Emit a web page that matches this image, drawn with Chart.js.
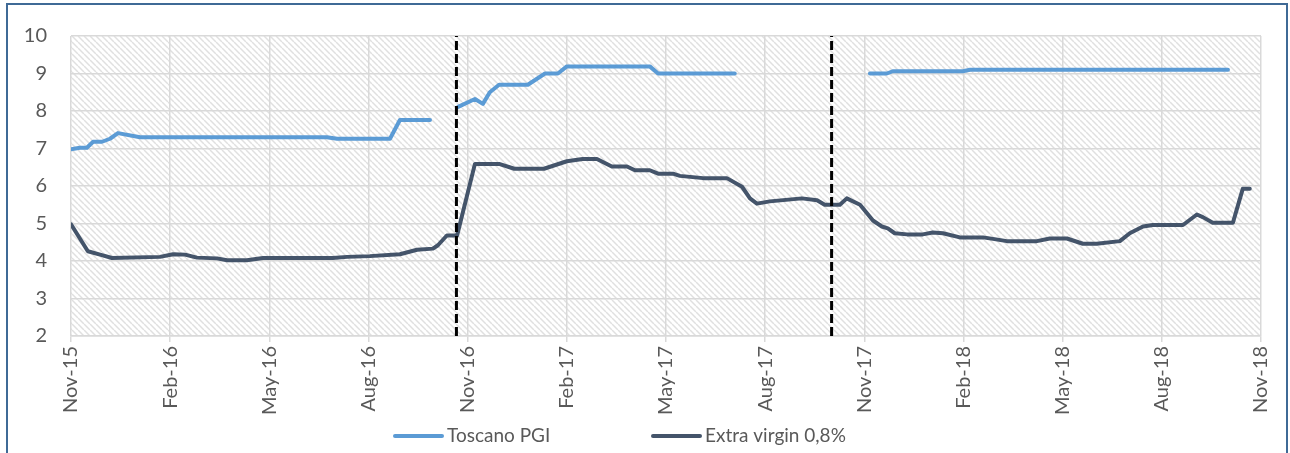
<!DOCTYPE html>
<html>
<head>
<meta charset="utf-8">
<script src="https://cdn.jsdelivr.net/npm/chart.js@4/dist/chart.umd.min.js"></script>
<style>
  html, body { margin: 0; padding: 0; background: #fff; }
  #wrap { position: relative; width: 1290px; height: 453px; overflow: hidden; }
  #frame { position: absolute; left: 6px; top: 3px; width: 1282px; height: 600px; box-sizing: border-box; border: 2px solid #3f6a96; }
  #chart { position: absolute; left: 0; top: 0; }
</style>
</head>
<body>
<div id="wrap">
  <div id="frame"></div>
  <canvas id="chart" width="1290" height="453"></canvas>
</div>
<script>
// x positions are months counted from Nov-15
const tickLabels = ['Nov-15', 'Feb-16', 'May-16', 'Aug-16', 'Nov-16', 'Feb-17', 'May-17',
  'Aug-17', 'Nov-17', 'Feb-18', 'May-18', 'Aug-18', 'Nov-18'];

const toscanoMonths = [0, 0.27, 0.48, 0.67, 0.94, 1.18, 1.42, 2.09, 7.74, 8.05, 9.65, 9.95, 10.86,
  11.3, 11.71, 12.22, 12.46, 12.67, 12.95, 13.82, 14.34, 14.73, 15.0, 17.51, 17.76, 20.08,
  22.0, 24.17, 24.68, 24.86, 26.98, 27.2, 35.0];
const toscanoValues = [6.98, 7.02, 7.02, 7.18, 7.18, 7.26, 7.41, 7.3, 7.3, 7.26, 7.26, 7.76, 7.76,
  null, 8.11, 8.32, 8.19, 8.5, 8.7, 8.7, 9.0, 9.0, 9.19, 9.19, 9.0, 9.0,
  null, 9.0, 9.0, 9.06, 9.06, 9.1, 9.1];

const extraMonths = [0, 0.51, 0.88, 1.24, 2.69, 3.09, 3.45, 3.81, 4.42, 4.72, 5.32, 5.81, 7.92, 8.35,
  9.04, 9.95, 10.47, 10.95, 11.1, 11.37, 11.68, 12.22, 12.95, 13.41, 14.31, 15.0, 15.48, 15.91,
  16.36, 16.82, 17.06, 17.51, 17.76, 18.21, 18.42, 19.12, 19.84, 20.3, 20.54, 20.75, 21.14, 22.11,
  22.57, 22.8, 23.26, 23.47, 23.87, 24.26, 24.53, 24.71, 24.92, 25.29, 25.77, 26.07, 26.38, 26.89,
  27.59, 27.89, 28.31, 29.22, 29.61, 30.13, 30.61, 31.03, 31.73, 32.03, 32.43, 32.73, 33.64, 34.06,
  34.24, 34.54, 35.15, 35.45, 35.66];
const extraValues = [4.98, 4.26, 4.17, 4.08, 4.11, 4.18, 4.17, 4.09, 4.07, 4.02, 4.02, 4.08, 4.08, 4.11,
  4.13, 4.18, 4.3, 4.33, 4.42, 4.68, 4.68, 6.59, 6.59, 6.46, 6.46, 6.66, 6.72, 6.72,
  6.52, 6.52, 6.42, 6.42, 6.33, 6.33, 6.27, 6.21, 6.21, 5.98, 5.67, 5.53, 5.59, 5.67,
  5.62, 5.5, 5.5, 5.67, 5.5, 5.08, 4.92, 4.87, 4.74, 4.71, 4.71, 4.76, 4.74, 4.63,
  4.63, 4.59, 4.53, 4.53, 4.6, 4.6, 4.46, 4.46, 4.53, 4.74, 4.92, 4.96, 4.96, 5.24,
  5.17, 5.02, 5.02, 5.93, 5.93];

// dashed separators between campaigns
const breakMonths = [11.66, 23.01];

const FONT = 'Lato';
const TEXT = '#595959';
const GRID = '#d9d9d9';

const toPoints = (xs, ys) => xs.map((x, i) => ({ x: x, y: ys[i] }));

const hatch = {
  id: 'hatch',
  beforeDraw(chart) {
    const { ctx, chartArea: a } = chart;
    const tile = document.createElement('canvas');
    tile.width = tile.height = 6;
    const t = tile.getContext('2d');
    t.strokeStyle = '#e0e0e0';
    t.lineWidth = 1.5;
    for (let k = -1; k <= 1; k++) {
      t.beginPath();
      t.moveTo(k * 6, 0);
      t.lineTo(k * 6 + 6, 6);
      t.stroke();
    }
    ctx.save();
    ctx.fillStyle = ctx.createPattern(tile, 'repeat');
    ctx.fillRect(a.left, a.top, a.right - a.left, a.bottom - a.top);
    ctx.restore();
  }
};

// legend drawn by hand: Excel spaces the two entries far apart
const lineLegend = {
  id: 'lineLegend',
  afterDraw(chart) {
    const ctx = chart.ctx;
    let x = 395;
    const y = 436;
    ctx.save();
    ctx.font = '19px ' + FONT;
    ctx.textBaseline = 'middle';
    chart.data.datasets.filter(d => !d.isBreak).forEach(d => {
      ctx.strokeStyle = d.borderColor;
      ctx.lineWidth = 4;
      ctx.lineCap = 'round';
      ctx.beginPath();
      ctx.moveTo(x, y);
      ctx.lineTo(x + 47, y);
      ctx.stroke();
      ctx.fillStyle = TEXT;
      ctx.fillText(d.label, x + 52, y);
      x += 258;
    });
    ctx.restore();
  }
};

const datasets = [
  {
    label: 'Toscano PGI',
    data: toPoints(toscanoMonths, toscanoValues),
    borderColor: '#5b9bd5',
    backgroundColor: '#5b9bd5',
    borderWidth: 4,
    order: 2
  },
  {
    label: 'Extra virgin 0,8%',
    data: toPoints(extraMonths, extraValues),
    borderColor: '#44546a',
    backgroundColor: '#44546a',
    borderWidth: 4,
    order: 1
  }
];
breakMonths.forEach(m => {
  datasets.push({
    label: '',
    isBreak: true,
    data: [{ x: m, y: 2 }, { x: m, y: 10 }],
    borderColor: '#000',
    borderWidth: 3,
    borderDash: [9, 4],
    borderCapStyle: 'butt',
    order: 0
  });
});

new Chart(document.getElementById('chart'), {
  type: 'line',
  data: { datasets: datasets },
  options: {
    responsive: false,
    animation: false,
    layout: { padding: { left: 0, right: 29, top: 29, bottom: 37 } },
    elements: {
      point: { radius: 0 },
      line: { tension: 0, borderJoinStyle: 'round', borderCapStyle: 'round' }
    },
    plugins: {
      legend: { display: false },
      tooltip: { enabled: false }
    },
    scales: {
      x: {
        type: 'linear',
        min: 0,
        max: 36,
        afterFit: s => { s.height = 80; },
        ticks: {
          stepSize: 3,
          autoSkip: false,
          minRotation: 90,
          maxRotation: 90,
          padding: 4,
          color: TEXT,
          font: { family: FONT, size: 20 },
          callback: v => tickLabels[Math.round(v / 3)]
        },
        grid: { color: GRID, lineWidth: 1.5, tickLength: 6 },
        border: { color: GRID, width: 1.5 }
      },
      y: {
        min: 2,
        max: 10,
        afterFit: s => { s.width = 71; },
        ticks: {
          stepSize: 1,
          padding: 24,
          color: TEXT,
          font: { family: FONT, size: 20 }
        },
        grid: { color: GRID, lineWidth: 1.5, drawTicks: false },
        border: { display: false }
      }
    }
  },
  plugins: [hatch, lineLegend]
});
</script>
</body>
</html>
